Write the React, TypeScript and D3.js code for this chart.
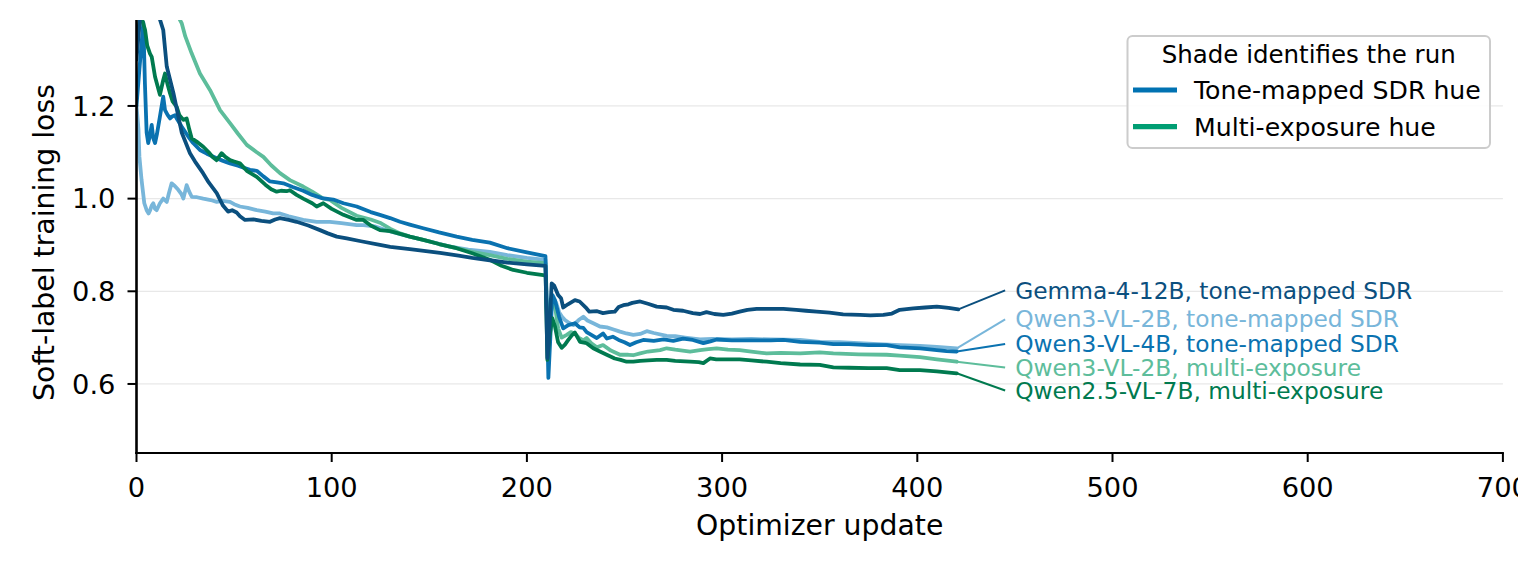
import React from "react";
import * as d3 from "d3";

// ---- data ----
const xTicks = [0, 100, 200, 300, 400, 500, 600, 700];
const yTicks = [0.6, 0.8, 1.0, 1.2];

const gemma12bTone: [number, number][] = [
  [0, 1.3], [2, 1.4], [4, 1.42], [8, 1.42], [11, 1.4], [13.7, 1.364], [15.5, 1.285], [18.9, 1.228], [23.2, 1.142],
  [27.4, 1.098], [30, 1.08], [34.1, 1.055], [37, 1.035], [41.1, 1.012], [44.3, 0.985], [46.9, 0.972], [49, 0.975],
  [51.3, 0.97], [53, 0.962], [55.6, 0.954], [60, 0.955], [64, 0.952], [68.4, 0.95], [71, 0.955], [73.5, 0.958],
  [78, 0.954], [82, 0.95], [88, 0.942], [94, 0.932], [98, 0.925], [102.6, 0.918], [107.7, 0.914], [115, 0.908],
  [124.7, 0.9], [130, 0.896], [140, 0.891], [155.5, 0.883], [165, 0.877], [172, 0.872], [181, 0.867], [190, 0.862],
  [200, 0.858], [209.5, 0.855], [210.5, 0.656], [211.3, 0.7], [212.7, 0.817], [214, 0.812], [216, 0.792],
  [217.5, 0.785], [218.6, 0.765], [221, 0.772], [224.6, 0.781], [227, 0.778], [230.6, 0.763], [232, 0.756],
  [236, 0.757], [239, 0.753], [242, 0.755], [245, 0.756], [247, 0.766], [249.4, 0.77], [252, 0.772], [254, 0.775],
  [258, 0.778], [262, 0.773], [266.5, 0.767], [271.6, 0.765], [275, 0.76], [280, 0.758], [285, 0.753],
  [288.7, 0.751], [292, 0.755], [296, 0.751], [300.6, 0.749], [305, 0.752], [309, 0.756], [313, 0.76],
  [317.7, 0.762], [325, 0.762], [331.4, 0.762], [338, 0.76], [343, 0.758], [348.5, 0.756], [355, 0.754],
  [362, 0.75], [370.6, 0.749], [376, 0.748], [382.6, 0.749], [387, 0.752], [391, 0.76], [398, 0.763],
  [404, 0.765], [410, 0.767], [416, 0.764], [421, 0.761],
];

const qwen3vl2bTone: [number, number][] = [
  [0, 1.2], [1, 1.15], [1.5, 1.09], [2.6, 1.04], [4, 0.99], [5.2, 0.975], [6.2, 0.968], [7, 0.975], [7.8, 0.985],
  [8.6, 0.99], [9.5, 0.978], [10.3, 0.975], [12, 0.99], [13.7, 1.0], [15.5, 0.993], [16.5, 1.01], [18, 1.033],
  [19.5, 1.028], [21.4, 1.019], [23, 1.01], [24, 1.0], [25.7, 1.029], [27, 1.015], [28.3, 1.004], [31, 1.003],
  [34.2, 1.0], [38, 0.997], [41.1, 0.993], [44, 0.995], [47.9, 0.993], [50, 0.988], [53, 0.983], [57, 0.98],
  [61.6, 0.975], [66, 0.972], [70, 0.968], [73.5, 0.968], [78, 0.962], [85.4, 0.954], [92.3, 0.95], [99.1, 0.95],
  [105, 0.947], [112.8, 0.943], [116.2, 0.943], [122, 0.94], [130, 0.929], [140, 0.918], [150, 0.908],
  [160, 0.897], [170, 0.89], [181, 0.885], [190, 0.878], [200, 0.872], [209.5, 0.868], [210.4, 0.72],
  [211.3, 0.68], [212.3, 0.77], [213.5, 0.79], [215, 0.775], [216.5, 0.755], [218, 0.745], [219.5, 0.738],
  [221.5, 0.732], [223.8, 0.727], [226.5, 0.738], [228.9, 0.745], [231, 0.737], [234, 0.731], [237.4, 0.724],
  [241, 0.722], [244, 0.718], [247.7, 0.713], [251, 0.709], [254.5, 0.706], [258, 0.708], [261.4, 0.714],
  [265, 0.71], [271.6, 0.704], [276, 0.703], [281, 0.7], [288.7, 0.696], [295, 0.697], [305, 0.696],
  [315, 0.697], [325, 0.696], [339.9, 0.695], [350, 0.691], [360, 0.69], [370, 0.688], [380, 0.686],
  [391, 0.684], [401.4, 0.682], [410, 0.68], [420.2, 0.677],
];

const qwen3vl4bTone: [number, number][] = [
  [0, 1.2], [1.5, 1.28], [3.5, 1.38], [4.3, 1.25], [5.2, 1.142], [6, 1.12], [6.8, 1.135], [7.8, 1.159],
  [8.6, 1.13], [9.5, 1.12], [10.5, 1.14], [12, 1.177], [13.7, 1.22], [14.6, 1.191], [16, 1.18], [17.2, 1.173],
  [18.5, 1.178], [19.7, 1.18], [21, 1.17], [23.2, 1.155], [26.5, 1.134], [29, 1.12], [32.5, 1.105], [36, 1.097],
  [41.1, 1.087], [44, 1.082], [47.9, 1.076], [52, 1.071], [58.1, 1.062], [61.6, 1.06], [65, 1.048], [68.4, 1.037],
  [72, 1.035], [75.2, 1.033], [80, 1.025], [85.4, 1.017], [90, 1.008], [95, 1.001], [100.8, 0.998], [106, 0.99],
  [112.8, 0.983], [120, 0.971], [124.7, 0.965], [129.9, 0.958], [135, 0.95], [140, 0.944], [146.9, 0.936],
  [155, 0.927], [164, 0.918], [172, 0.911], [181, 0.905], [190, 0.893], [200, 0.884], [209.5, 0.876],
  [210.3, 0.75], [211, 0.613], [212, 0.7], [213, 0.792], [214.4, 0.78], [216.5, 0.745], [218.6, 0.72],
  [221.2, 0.727], [224.6, 0.731], [227, 0.722], [228.9, 0.721], [230.6, 0.712], [233, 0.706], [235.8, 0.699],
  [239, 0.709], [241, 0.698], [244, 0.702], [247, 0.695], [250, 0.69], [252.8, 0.684], [256, 0.69],
  [259.6, 0.695], [265, 0.693], [270, 0.696], [275, 0.693], [280, 0.698], [285, 0.695], [290.4, 0.688],
  [294, 0.692], [297.2, 0.696], [305, 0.694], [315, 0.694], [325, 0.694], [331.4, 0.695], [340, 0.691],
  [350, 0.689], [357, 0.686], [365, 0.686], [375, 0.684], [384.3, 0.684], [391, 0.679], [401.4, 0.677],
  [410, 0.673], [415, 0.671], [420.2, 0.67],
];

const qwen3vl2bMulti: [number, number][] = [
  [0, 1.62], [10, 1.5], [18, 1.42], [23.2, 1.378], [25, 1.35], [28.3, 1.313], [32.5, 1.27], [37.7, 1.234],
  [42.8, 1.191], [47.9, 1.163], [52, 1.14], [56.5, 1.116], [61.6, 1.1], [65, 1.09], [69, 1.072], [73.5, 1.055],
  [78.6, 1.04], [85.4, 1.026], [90, 1.015], [95.7, 1.0], [99.1, 0.997], [105, 0.98], [112.8, 0.963],
  [120, 0.955], [124.7, 0.948], [129.9, 0.935], [135, 0.925], [140, 0.918], [146.9, 0.911], [155, 0.902],
  [164, 0.893], [172, 0.885], [181, 0.878], [190, 0.87], [200, 0.864], [209.5, 0.861], [210.3, 0.74],
  [211, 0.66], [212, 0.74], [213, 0.78], [214.5, 0.765], [216, 0.72], [217.8, 0.7], [220.4, 0.706],
  [222.5, 0.712], [224.6, 0.709], [226.5, 0.7], [228.9, 0.694], [230.6, 0.699], [233, 0.688], [235.8, 0.679],
  [239, 0.684], [243, 0.672], [247.7, 0.663], [252, 0.663], [254.5, 0.662], [258, 0.666], [262, 0.67],
  [268.2, 0.673], [271.6, 0.677], [276, 0.674], [283.6, 0.67], [288.7, 0.673], [293, 0.675], [297.2, 0.677],
  [303, 0.674], [309, 0.673], [315, 0.67], [322.8, 0.666], [330, 0.667], [340, 0.666], [350, 0.668],
  [357, 0.666], [370, 0.664], [384.3, 0.663], [391, 0.661], [401.4, 0.658], [410, 0.653], [420.2, 0.648],
];

const qwen25vl7bMulti: [number, number][] = [
  [0, 1.33], [2, 1.4], [4.4, 1.364], [5.5, 1.33], [6.9, 1.313], [7.8, 1.306], [9.5, 1.263], [12, 1.224],
  [13.7, 1.256], [14.6, 1.27], [16, 1.245], [17.2, 1.227], [18.5, 1.21], [20.6, 1.198], [22, 1.18], [24, 1.17],
  [25.7, 1.173], [27, 1.15], [28.3, 1.13], [30.8, 1.123], [34.2, 1.112], [37, 1.1], [39, 1.09], [41.1, 1.083],
  [43.6, 1.098], [45.5, 1.09], [47.9, 1.083], [50, 1.08], [53, 1.076], [56.5, 1.06], [61.6, 1.047], [66, 1.03],
  [69, 1.02], [71.8, 1.015], [74, 1.017], [76.9, 1.016], [78.6, 1.018], [82, 1.008], [85.4, 1.0], [90, 0.99],
  [92.3, 0.983], [95.7, 0.99], [100, 0.978], [106, 0.965], [112.8, 0.954], [116.2, 0.954], [120, 0.942],
  [124.7, 0.932], [129.9, 0.93], [135, 0.924], [140, 0.918], [146.9, 0.911], [155, 0.902], [164, 0.893],
  [172, 0.882], [181, 0.868], [187, 0.855], [193, 0.846], [200, 0.84], [208.4, 0.835], [209.6, 0.834],
  [210.5, 0.652], [211.5, 0.7], [213, 0.742], [214.4, 0.724], [216, 0.69], [217.8, 0.678], [219.5, 0.685],
  [221.2, 0.695], [223, 0.705], [224.6, 0.711], [226, 0.7], [227.2, 0.691], [230.6, 0.688], [234, 0.677],
  [237.4, 0.67], [240.9, 0.663], [245, 0.655], [248, 0.652], [251.1, 0.648], [254.5, 0.648], [258, 0.65],
  [262, 0.651], [266.5, 0.652], [271.6, 0.652], [276, 0.65], [283.6, 0.648], [288, 0.647], [290.4, 0.645],
  [293.8, 0.655], [297, 0.653], [305, 0.653], [309, 0.653], [315, 0.651], [322.8, 0.648], [330, 0.645],
  [340, 0.642], [350, 0.641], [357, 0.636], [365, 0.635], [375, 0.634], [384.3, 0.634], [391, 0.63],
  [401.4, 0.63], [410, 0.627], [420.2, 0.623],
];

const runNames = [
  "Qwen3-VL-2B, tone-mapped SDR",
  "Qwen3-VL-2B, multi-exposure",
  "Qwen3-VL-4B, tone-mapped SDR",
  "Qwen2.5-VL-7B, multi-exposure",
  "Gemma-4-12B, tone-mapped SDR",
];
const runData = [qwen3vl2bTone, qwen3vl2bMulti, qwen3vl4bTone, qwen25vl7bMulti, gemma12bTone];
const runColors = ["#78b6da", "#5dbd9b", "#0a72b0", "#007a4f", "#0b4f7e"];
// label anchor (loss units) at the right-hand annotation column
const labelLoss = [0.7395, 0.6355, 0.686, 0.586, 0.802];
const labelStep = 445;

const legendTitle = "Shade identifies the run";
const legendItems = ["Tone-mapped SDR hue", "Multi-exposure hue"];
const legendColors = ["#0072B2", "#009E73"];

const FONT = "'DejaVu Sans', sans-serif";

export default function App() {
  const W = 1518;
  const H = 568;
  const left = 136.5;
  const right = 1502.9;
  const top = 20;
  const bottom = 453;

  const x = d3.scaleLinear().domain([0, 700]).range([left, right]);
  const y = d3.scaleLinear().domain([0.451, 1.3855]).range([bottom, top]);
  const line = d3
    .line<[number, number]>()
    .x((d) => x(d[0]))
    .y((d) => y(d[1]));

  return (
    <svg
      width={W}
      height={H}
      viewBox={`0 0 ${W} ${H}`}
      style={{ position: "absolute", left: 0, top: 0, background: "#fff" }}
      fontFamily={FONT}
    >
      <defs>
        <clipPath id="plotclip">
          <rect x={left} y={top} width={right - left} height={bottom - top} />
        </clipPath>
      </defs>
      <rect x={0} y={0} width={W} height={H} fill="#fff" />

      {/* gridlines */}
      {yTicks.map((t) => (
        <line key={"g" + t} x1={left} x2={right} y1={y(t)} y2={y(t)} stroke="#e8e8e8" strokeWidth={1.3} />
      ))}

      {/* series */}
      <g clipPath="url(#plotclip)">
        {runData.map((d, i) => (
          <path
            key={runNames[i]}
            d={line(d) || ""}
            fill="none"
            stroke={runColors[i]}
            strokeWidth={3.8}
            strokeLinejoin="round"
            strokeLinecap="round"
          />
        ))}
      </g>

      {/* leader lines + labels */}
      {runData.map((d, i) => {
        const last = d[d.length - 1];
        return (
          <g key={"lab" + i}>
            <line
              x1={x(last[0])}
              y1={y(last[1])}
              x2={x(labelStep)}
              y2={y(labelLoss[i])}
              stroke={runColors[i]}
              strokeWidth={2}
            />
            <text
              x={x(labelStep) + 10}
              y={y(labelLoss[i])}
              dy="0.35em"
              fontSize={23.3}
              fill={runColors[i]}
            >
              {runNames[i]}
            </text>
          </g>
        );
      })}

      {/* spines */}
      <line x1={left} x2={left} y1={top} y2={bottom + 1} stroke="#000" strokeWidth={2.6} />
      <line x1={left - 1.3} x2={right + 1} y1={bottom} y2={bottom} stroke="#000" strokeWidth={2} />

      {/* x ticks */}
      {xTicks.map((t) => (
        <g key={"x" + t}>
          <line x1={x(t)} x2={x(t)} y1={bottom} y2={bottom + 9} stroke="#000" strokeWidth={2} />
          <text x={x(t)} y={496.5} textAnchor="middle" fontSize={27.3} fill="#000">
            {t}
          </text>
        </g>
      ))}

      {/* y ticks */}
      {yTicks.map((t) => (
        <g key={"y" + t}>
          <line x1={left - 9} x2={left} y1={y(t)} y2={y(t)} stroke="#000" strokeWidth={2} />
          <text x={left - 21} y={y(t)} dy="0.36em" textAnchor="end" fontSize={27.3} fill="#000">
            {t.toFixed(1)}
          </text>
        </g>
      ))}

      {/* axis labels */}
      <text x={(left + right) / 2} y={535} textAnchor="middle" fontSize={28.3} fill="#000">
        Optimizer update
      </text>
      <text
        transform={`translate(${54},${(top + bottom) / 2 + 6}) rotate(-90)`}
        textAnchor="middle"
        fontSize={28.3}
        fill="#000"
      >
        Soft-label training loss
      </text>

      {/* legend */}
      <g>
        <rect x={1127.5} y={36} width={362.5} height={112} rx={5} fill="#fff" fillOpacity={0.85} stroke="#cccccc" strokeWidth={2} />
        <text x={1308.7} y={62.5} textAnchor="middle" fontSize={24.5} fill="#000">
          {legendTitle}
        </text>
        {legendItems.map((name, i) => (
          <g key={name}>
            <line x1={1133} x2={1177} y1={90 + i * 36.7} y2={90 + i * 36.7} stroke={legendColors[i]} strokeWidth={5.2} />
            <text x={1194} y={90 + i * 36.7} dy="0.35em" fontSize={25.2} fill="#000">
              {name}
            </text>
          </g>
        ))}
      </g>
    </svg>
  );
}
